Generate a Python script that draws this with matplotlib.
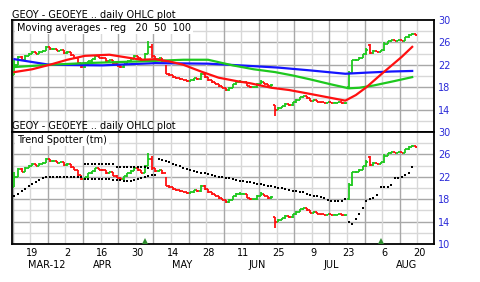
import numpy as np
import matplotlib
matplotlib.use("Agg")
import matplotlib.pyplot as plt

# daily OHLC, day 0 = Mon 12 Mar 2012 (weekday index)
opens = [20.2, 22.0, 23.4, 22.9, 23.6, 24.0, 24.2, 24.0, 24.3, 24.5,
         25.2, 24.8, 24.9, 24.5, 24.6, 24.1, 24.3, 23.7, 23.3, 22.3,
         21.6, 21.9, 22.6, 23.0, 23.5, 23.3, 23.2, 22.6, 22.8, 22.2,
         21.8, 21.6, 22.1, 22.6, 23.1, 23.6, 23.2, 22.7, 24.0, 25.2,
         23.5, 23.0, 23.2, 22.6, 20.4, 20.2, 19.8, 19.6, 19.4, 19.3,
         19.1, 19.2, 19.6, 19.4, 20.4, 19.8, 19.2, 18.9, 18.6, 18.2,
         17.9, 17.5, 17.9, 18.5, 19.0, 19.0, 19.0, 18.3, 18.0, 18.0,
         18.6, 19.0, 18.6, 18.2, 14.8, 14.0, 14.3, 14.6, 15.0, 14.8,
         15.3, 15.8, 16.2, 16.4, 16.0, 15.6, 15.8, 15.4, 15.3, 15.2,
         15.3, 15.2, 15.2, 15.3, 15.1, 18.0, 20.5, 22.8, 22.9, 23.3,
         23.9, 25.6, 24.1, 24.5, 24.3, 24.6, 25.8, 26.2, 26.4, 26.3,
         26.4, 26.3, 26.9, 27.4, 27.5]
highs = [22.9, 23.6, 23.5, 23.7, 24.1, 24.4, 24.3, 24.4, 24.6, 25.3,
         25.2, 25.0, 24.9, 24.7, 24.6, 24.4, 24.3, 23.8, 23.3, 22.4,
         22.0, 22.7, 23.1, 23.6, 23.6, 23.4, 23.2, 22.9, 22.8, 22.3,
         21.9, 22.2, 22.7, 23.2, 23.7, 23.6, 23.2, 24.1, 26.2, 25.7,
         23.5, 23.3, 23.2, 22.0, 20.5, 20.2, 19.9, 19.6, 19.5, 19.3,
         19.3, 19.7, 19.6, 20.6, 20.5, 19.8, 19.2, 18.9, 18.6, 18.2,
         17.9, 18.0, 18.6, 19.1, 19.3, 19.1, 19.0, 18.3, 18.1, 18.7,
         19.2, 19.0, 18.6, 18.5, 14.8, 14.4, 14.7, 15.1, 15.0, 15.4,
         15.9, 16.3, 16.5, 16.4, 16.0, 15.9, 15.8, 15.4, 15.3, 15.4,
         15.3, 15.3, 15.4, 15.3, 15.2, 20.9, 22.9, 23.0, 23.4, 24.0,
         25.0, 25.8, 24.6, 24.5, 24.7, 26.0, 26.3, 26.5, 26.4, 26.5,
         26.4, 27.0, 27.5, 27.6, 27.5]
lows = [20.2, 22.0, 22.8, 22.9, 23.5, 24.0, 23.9, 24.0, 24.2, 24.5,
        24.7, 24.7, 24.4, 24.4, 24.0, 24.0, 23.6, 23.2, 22.2, 21.5,
        21.5, 21.8, 22.5, 22.9, 23.2, 23.1, 22.5, 22.5, 22.1, 21.7,
        21.5, 21.5, 22.0, 22.5, 23.0, 23.1, 22.6, 22.6, 23.9, 23.3,
        22.9, 22.9, 22.5, 20.3, 20.0, 19.7, 19.5, 19.3, 19.2, 19.0,
        19.0, 19.1, 19.3, 19.3, 19.7, 19.1, 18.8, 18.5, 18.1, 17.8,
        17.4, 17.4, 17.8, 18.4, 18.8, 18.9, 18.2, 17.9, 17.9, 17.9,
        18.5, 18.5, 18.1, 18.1, 12.9, 13.9, 14.2, 14.5, 14.7, 14.7,
        15.2, 15.7, 16.1, 15.9, 15.5, 15.5, 15.3, 15.2, 15.1, 15.1,
        15.1, 15.1, 15.1, 15.0, 15.0, 17.9, 20.4, 22.6, 22.8, 23.2,
        23.8, 24.0, 24.0, 24.2, 24.2, 24.5, 25.7, 26.1, 26.2, 26.2,
        26.2, 26.2, 26.8, 27.3, 27.2]
closes = [22.0, 23.4, 22.9, 23.6, 24.0, 24.2, 24.0, 24.3, 24.5, 25.2,
          24.8, 24.9, 24.5, 24.6, 24.1, 24.3, 23.7, 23.3, 22.3, 21.6,
          21.9, 22.6, 23.0, 23.5, 23.3, 23.2, 22.6, 22.8, 22.2, 21.8,
          21.6, 22.1, 22.6, 23.1, 23.6, 23.2, 22.7, 24.0, 25.2, 23.5,
          23.0, 23.2, 22.6, 20.4, 20.2, 19.8, 19.6, 19.4, 19.3, 19.1,
          19.2, 19.6, 19.4, 20.4, 19.8, 19.2, 18.9, 18.6, 18.2, 17.9,
          17.5, 17.9, 18.5, 19.0, 19.0, 19.0, 18.3, 18.0, 18.0, 18.6,
          19.0, 18.6, 18.2, 18.4, 14.0, 14.3, 14.6, 15.0, 14.8, 15.3,
          15.8, 16.2, 16.4, 16.0, 15.6, 15.8, 15.4, 15.3, 15.2, 15.3,
          15.2, 15.2, 15.3, 15.1, 15.1, 20.5, 22.8, 22.9, 23.3, 23.9,
          24.6, 24.1, 24.5, 24.3, 24.6, 25.8, 26.2, 26.4, 26.3, 26.4,
          26.3, 26.9, 27.4, 27.5, 27.3]

# moving averages (read at a few days)
ma20_day = [0, 5, 10, 15, 20, 27, 32, 36, 40, 44, 48, 53, 58, 63, 67, 73, 78, 84, 89, 94, 97, 100, 104, 107, 110, 113]
ma20_val = [20.7, 21.2, 22.0, 22.9, 23.6, 23.8, 23.3, 22.9, 23.0, 22.6, 22.0, 20.8, 19.7, 19.1, 18.7, 17.9, 17.5, 16.8, 16.2, 15.6, 16.6, 18.0, 20.2, 21.8, 23.4, 25.2]
ma50_day = [0, 10, 20, 30, 40, 48, 55, 62, 68, 74, 79, 84, 90, 95, 98, 102, 108, 113]
ma50_val = [21.6, 22.0, 22.3, 22.5, 22.7, 22.9, 22.9, 21.9, 21.2, 20.7, 20.1, 19.4, 18.5, 17.8, 17.9, 18.3, 19.1, 19.8]
ma100_day = [0, 10, 25, 40, 55, 64, 75, 84, 94, 100, 107, 113]
ma100_val = [23.0, 22.0, 21.9, 22.3, 22.2, 21.9, 21.5, 21.0, 20.4, 20.6, 20.8, 20.9]

# trend spotter dots
ts_a_day = list(range(0, 41))
ts_a_val = [18.6, 19.0, 19.5, 19.8, 20.3, 20.8, 21.1, 21.5, 21.8, 22.0,
            22.0, 22.0, 22.0, 22.0, 22.0, 22.0, 22.0, 22.0, 22.0, 22.0,
            21.6, 21.6, 21.6, 21.6, 21.6, 21.6, 21.6, 21.6, 21.5, 21.4,
            21.4, 21.3, 21.3, 21.3, 21.4, 21.6, 21.8, 22.0, 22.2, 22.3,
            22.3]
ts_b_day = list(range(20, 39))
ts_b_val = [24.3, 24.3, 24.3, 24.3, 24.3, 24.3, 24.3, 24.3, 24.3, 23.8,
            23.8, 23.8, 23.8, 23.8, 23.8, 23.8, 23.8, 23.8, 23.6]
ts_c_day = list(range(41, 95))
ts_c_val = [25.2, 25.0, 24.8, 24.6, 24.3, 24.1, 23.9, 23.6, 23.4, 23.2,
            23.0, 22.8, 22.7, 22.6, 22.5, 22.3, 22.2, 22.0, 21.9, 21.8,
            21.7, 21.6, 21.5, 21.3, 21.2, 21.1, 21.0, 20.9, 20.8, 20.7,
            20.6, 20.4, 20.3, 20.2, 20.0, 20.0, 19.9, 19.6, 19.5, 19.5,
            19.3, 19.2, 19.0, 18.8, 18.6, 18.5, 18.4, 18.3, 17.8, 17.7,
            17.7, 17.7, 17.7, 18.0]
ts_d_day = list(range(95, 114))
ts_d_val = [14.0, 13.6, 14.5, 15.4, 16.4, 17.6, 18.0, 18.3, 18.8, 20.2,
            20.2, 20.2, 20.5, 21.8, 21.8, 22.0, 22.3, 22.6, 23.8]
signal_day = [37, 104]

tick_day = [5, 15, 25, 35, 45, 55, 65, 75, 85, 95, 105, 115]
tick_lab = ["19", "2", "16", "30", "14", "28", "11", "25", "9", "23", "6", "20"]
month_day = [9.3, 25.2, 47.6, 69, 90, 111.5]
month_lab = ["MAR-12", "APR", "MAY", "JUN", "JUL", "AUG"]

RED = "#ff1010"
GREEN = "#1ec81e"
BLUE = "#1414ff"
LBLUE = "#2a2ad8"
plt.rcParams["font.family"] = "DejaVu Sans"

W, H = 480, 282
fig = plt.figure(figsize=(W / 100, H / 100), dpi=100)
ax1 = fig.add_axes([12 / W, 1 - 132 / H, 422 / W, 112 / H])
ax2 = fig.add_axes([12 / W, 1 - 244 / H, 422 / W, 112 / H])

day = np.arange(len(closes))
o = np.array(opens)
c = np.array(closes)
cols = np.where(c >= o, GREEN, RED)


def setup(ax, ylabels):
    ax.set_xlim(-0.7, 119.2)
    ax.set_ylim(10, 30)
    for v in range(12, 30, 2):
        dark = (v - 10) % 4 == 0
        ax.axhline(v, color="#a8a8a8" if dark else "#d8d8d8", lw=1.0, zorder=0)
    for m in range(0, 120, 5):
        dark = m % 10 == 0
        ax.axvline(m - 0.5, color="#a8a8a8" if dark else "#d8d8d8", lw=1.0, zorder=0)
    ax.yaxis.tick_right()
    ax.set_yticks(ylabels)
    ax.tick_params(axis="y", length=0, pad=3, labelsize=7, labelcolor=LBLUE)
    ax.set_xticks([])
    for s in ax.spines.values():
        s.set_color("black")
        s.set_linewidth(1.3)


def draw_bars(ax):
    ax.vlines(day, lows, highs, colors=cols, lw=1.3, zorder=3)
    ax.hlines(o, day - 0.5, day, colors=cols, lw=1.3, zorder=3)
    ax.hlines(c, day, day + 0.5, colors=cols, lw=1.3, zorder=3)


setup(ax1, [14, 18, 22, 26, 30])
setup(ax2, [10, 14, 18, 22, 26, 30])

draw_bars(ax1)
ax1.plot(ma100_day, ma100_val, color=BLUE, lw=1.6, zorder=4)
ax1.plot(ma50_day, ma50_val, color=GREEN, lw=1.6, zorder=4)
ax1.plot(ma20_day, ma20_val, color=RED, lw=1.6, zorder=4)

draw_bars(ax2)
for dd, vv in [(ts_a_day, ts_a_val), (ts_b_day, ts_b_val), (ts_c_day, ts_c_val), (ts_d_day, ts_d_val)]:
    ax2.plot(dd, vv, "s", ms=1.7, mew=0, color="black", zorder=5)
ax2.plot(signal_day, [10.6] * len(signal_day), "^", ms=5, color="#2e8b2e", mew=0, clip_on=False, zorder=6)

ax2.set_xticks(tick_day)
ax2.set_xticklabels(tick_lab)
ax2.tick_params(axis="x", length=0, pad=3, labelsize=7)
for md, ml in zip(month_day, month_lab):
    ax2.text(md, -0.145, ml, transform=ax2.get_xaxis_transform(), ha="center", va="top", fontsize=7)

fig.text(12 / W, 1 - 18 / H, "GEOY - GEOEYE .. daily OHLC plot", fontsize=7, va="baseline")
fig.text(12 / W, 1 - 129 / H, "GEOY - GEOEYE .. daily OHLC plot", fontsize=7, va="baseline", zorder=10)
box = dict(facecolor="white", edgecolor="none", pad=1.2)
ax1.text(0.012, 0.975, "Moving averages - reg   20  50  100", transform=ax1.transAxes,
         fontsize=7, va="top", ha="left", bbox=box, zorder=6)
ax2.text(0.012, 0.975, "Trend Spotter (tm)", transform=ax2.transAxes,
         fontsize=7, va="top", ha="left", bbox=box, zorder=6)

fig.savefig("out.png", dpi=100)
